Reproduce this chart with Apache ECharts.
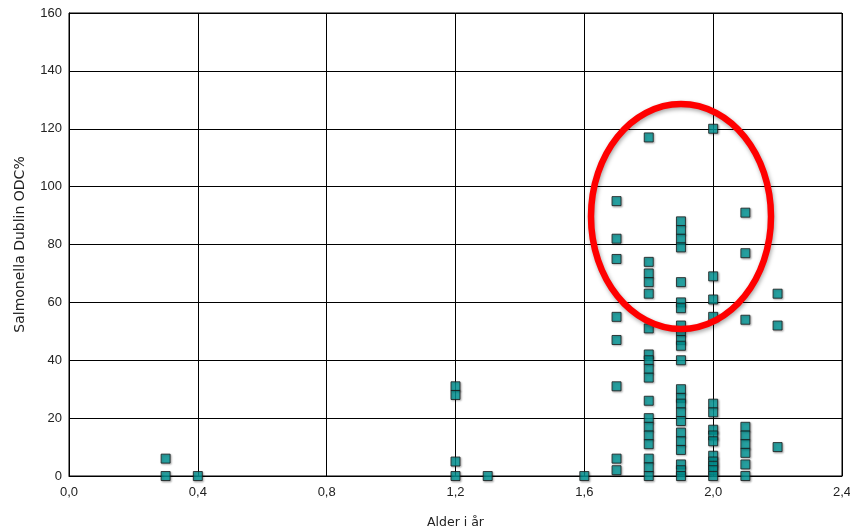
<!DOCTYPE html>
<html>
<head>
<meta charset="utf-8">
<script src="https://cdn.jsdelivr.net/npm/echarts@6/dist/echarts.min.js"></script>
<style>
html,body{margin:0;padding:0;background:#fff;}
#chart{width:850px;height:530px;}
</style>
</head>
<body>
<div id="chart"></div>
<script>
// Age (år) columns and the ODC% values observed at each age
var ages = [0.3, 0.4, 1.2, 1.3, 1.6, 1.7, 1.8, 1.9, 2.0, 2.1, 2.2];
var values_0_3 = [6, 0];
var values_0_4 = [0];
var values_1_2 = [31, 28, 5, 0];
var values_1_3 = [0];
var values_1_6 = [0];
var values_1_7 = [95, 82, 75, 55, 47, 31, 6, 2];
var values_1_8 = [117, 74, 70, 67, 63, 51, 42, 40, 37, 34, 26, 20, 17, 14, 11, 6, 3, 0];
var values_1_9 = [88, 85, 82, 79, 67, 60, 58, 52, 50, 47, 45, 40, 30, 27, 25, 22, 19, 15, 12, 9, 4, 2, 0];
var values_2_0 = [120, 69, 61, 55, 25, 22, 16, 14, 12, 7, 5, 3.5, 2, 0];
var values_2_1 = [91, 77, 54, 17, 14, 11, 8, 4, 0];
var values_2_2 = [63, 52, 10];
var columns = [values_0_3, values_0_4, values_1_2, values_1_3, values_1_6, values_1_7,
               values_1_8, values_1_9, values_2_0, values_2_1, values_2_2];
var xTicks = [0, 0.4, 0.8, 1.2, 1.6, 2.0, 2.4];
var yTicks = [0, 20, 40, 60, 80, 100, 120, 140, 160];

var points = [];
ages.forEach(function (a, i) {
  columns[i].forEach(function (v) { points.push([a, v]); });
});

var chart = echarts.init(document.getElementById('chart'));
chart.setOption({
  animation: false,
  backgroundColor: '#ffffff',
  grid: { left: 69, right: 8, top: 13, bottom: 54, show: true, borderColor: '#000', borderWidth: 1,
    containLabel: false, outerBoundsMode: 'none' },
  xAxis: {
    type: 'value', min: xTicks[0], max: xTicks[xTicks.length - 1], interval: 0.4,
    name: 'Alder i år', nameLocation: 'middle', nameGap: 40,
    nameTextStyle: { fontFamily: 'DejaVu Sans', fontSize: 12.5, color: '#222' },
    axisLine: { show: true, lineStyle: { color: '#000', width: 1 } },
    axisTick: { show: false },
    axisLabel: { margin: 10, fontFamily: 'Liberation Sans', fontSize: 13, color: '#222',
      formatter: function (v) { return v.toFixed(1).replace('.', ','); } },
    splitLine: { show: true, lineStyle: { color: '#000', width: 1 } }
  },
  yAxis: {
    type: 'value', min: yTicks[0], max: yTicks[yTicks.length - 1], interval: 20,
    name: 'Salmonella Dublin ODC%', nameLocation: 'middle', nameGap: 42, nameRotate: 90,
    nameTextStyle: { fontFamily: 'DejaVu Sans', fontSize: 14, color: '#222' },
    axisLine: { show: true, lineStyle: { color: '#000', width: 1 } },
    axisTick: { show: false },
    axisLabel: { margin: 7, fontFamily: 'Liberation Sans', fontSize: 13, color: '#222' },
    splitLine: { show: true, lineStyle: { color: '#000', width: 1 } }
  },
  series: [{
    type: 'scatter',
    data: points,
    symbol: 'rect',
    symbolSize: 9,
    itemStyle: { color: '#009999', borderColor: '#1a1a1a', borderWidth: 1,
      shadowColor: 'rgba(0,0,0,0.35)', shadowBlur: 2, shadowOffsetX: 1, shadowOffsetY: 1 },
    z: 3
  }],
  graphic: [{
    type: 'ellipse',
    shape: { cx: 681, cy: 216.5, rx: 90, ry: 112.5 },
    style: { fill: 'none', stroke: '#ff0000', lineWidth: 6.5,
      shadowColor: 'rgba(0,0,0,0.35)', shadowBlur: 4, shadowOffsetX: 1, shadowOffsetY: 2 },
    z: 100
  }]
});
</script>
</body>
</html>
